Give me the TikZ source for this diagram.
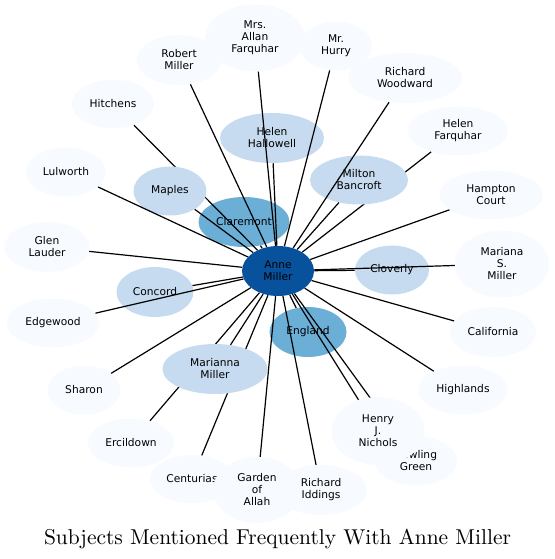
\documentclass[tikz,border=0pt]{standalone}
\usepackage{fontspec}
\newfontfamily\dejavu{DejaVu Sans}
\usetikzlibrary{shapes.geometric}
\definecolor{bl0}{HTML}{F7FBFF}
\definecolor{bl1}{HTML}{C6DBEF}
\definecolor{bl2}{HTML}{6BAED6}
\definecolor{bl3}{HTML}{08519C}

\begin{document}
\begin{tikzpicture}[x=0.75pt,y=-0.75pt,%
        v/.style={ellipse, inner sep=0pt, align=center,%
                        font=\dejavu\fontsize{8}{9}\selectfont},
        v0/.style={v, fill=bl0},
        v1/.style={v, fill=bl1},
        v2/.style={v, fill=bl2},
        v3/.style={v, fill=bl3},
        sz/.style 2 args={minimum width=#1*0.75pt, minimum height=#2*0.75pt},
        link/.style={line width=0.9pt}]
            \useasboundingbox (0,0) rectangle (555,559);
            \node[v3, sz={72}{50}] (anne) at (278,271) {Anne\\Miller};
            \node[v0, sz={85}{50}] (rmiller) at (179,60) {Robert\\Miller};
            \node[v0, sz={100}{67}] (afarquhar) at (255,38) {Mrs.\\Allan\\Farquhar};
            \node[v0, sz={72}{49}] (hurry) at (336,46) {Mr.\\Hurry};
            \node[v0, sz={114}{50}] (woodward) at (405,78) {Richard\\Woodward};
            \node[v1, sz={104}{50}] (hallowell) at (272,138) {Helen\\Hallowell};
            \node[v0, sz={100}{49}] (hfarquhar) at (458,131) {Helen\\Farquhar};
            \node[v0, sz={103}{49}] (hampton) at (491,195) {Hampton\\Court};
            \node[v0, sz={94}{67}] (mariana) at (502,264) {Mariana\\S.\\Miller};
            \node[v1, sz={74}{49}] (cloverly) at (392,270) {Cloverly};
            \node[v0, sz={86}{50}] (california) at (493,332) {California};
            \node[v0, sz={89}{49}] (highlands) at (463,390) {Highlands};
            \node[v0, sz={82}{49}] (bowling) at (416,461) {Bowling\\Green};
            \node[v2, sz={77}{50}] (england) at (308,332) {England};
            \node[v0, sz={84}{48}] (centurias) at (192,479) {Centurias};
            \node[v0, sz={88}{66}] (allah) at (257,490) {Garden\\of\\Allah};
            \node[v0, sz={92}{50}] (iddings) at (321,490) {Richard\\Iddings};
            \node[v0, sz={86}{49}] (ercildown) at (131,443) {Ercildown};
            \node[v0, sz={73}{49}] (sharon) at (84,390) {Sharon};
            \node[v0, sz={92}{49}] (edgewood) at (53,323) {Edgewood};
            \node[v1, sz={77}{50}] (concord) at (155,292) {Concord};
            \node[v0, sz={85}{50}] (lauder) at (47,247) {Glen\\Lauder};
            \node[v0, sz={80}{49}] (lulworth) at (66,172) {Lulworth};
            \node[v0, sz={82}{49}] (hitchens) at (113,104) {Hitchens};
            \node[v2, sz={91}{50}] (claremont) at (244,222) {Claremont};
            % these run under the nodes drawn next
            \foreach \t in {hfarquhar,bowling,centurias,ercildown,hitchens}
                \draw[link] (anne) -- (\t);
            \node[v1, sz={98}{49}] (bancroft) at (359,180) {Milton\\Bancroft};
            \node[v0, sz={93}{68}] (nichols) at (378,431) {Henry\\J.\\Nichols};
            \node[v1, sz={105}{50}] (mmiller) at (215,369) {Marianna\\Miller};
            \node[v1, sz={73}{49}] (maples) at (170,191) {Maples};
            \foreach \t in {rmiller,afarquhar,hurry,woodward,hallowell,bancroft,%
                    hampton,mariana,cloverly,california,highlands,nichols,%
                    england,iddings,allah,mmiller,sharon,edgewood,concord,%
                    lauder,lulworth,maples,claremont}
                \draw[link] (anne) -- (\t);
            \node[anchor=base] (title) at (277.5,544)
                {\scalebox{1.61}{\fontsize{10}{12}\selectfont
                 Subjects Mentioned Frequently With Anne Miller}};
\end{tikzpicture}
\end{document}
